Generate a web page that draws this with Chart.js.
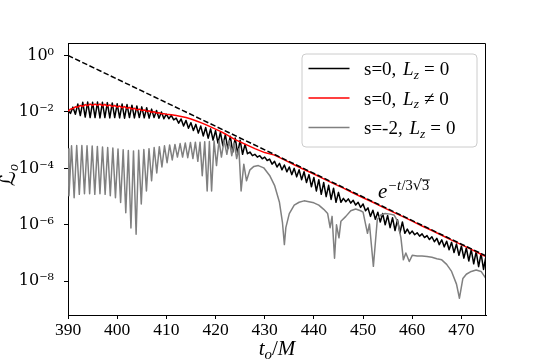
<!DOCTYPE html>
<html><head><meta charset="utf-8">
<script src="https://cdn.jsdelivr.net/npm/chart.js@4/dist/chart.umd.min.js"></script>
<style>html,body{margin:0;padding:0;background:#fff;}canvas{display:block;}</style>
</head><body>
<canvas id="c" width="540" height="360"></canvas>
<script>
// ---------- data (log10 of L_o) ----------
const xTicks = [390, 400, 410, 420, 430, 440, 450, 460, 470];
const yTickExps = [-8, -6, -4, -2, 0];
const xRange = [390, 475];
const yRange = [6.4e-10, 2.77];

// s=0, Lz=0 : peaks at t = 390,391,...,475 ; troughs at t = 390.5,...,474.5
const blackPeakStart = 390, blackTroughStart = 390.5;
const blackPeaks = [-1.95,-1.83,-1.72,-1.66,-1.65,-1.66,-1.65,-1.66,-1.67,-1.68,
 -1.71,-1.72,-1.74,-1.76,-1.79,-1.82,-1.85,-1.9,-1.95,-2.0,
 -2.08,-2.12,-2.22,-2.25,-2.3,-2.38,-2.44,-2.5,-2.55,-2.6,
 -2.66,-2.72,-2.8,-2.86,-2.92,-3.0,-3.15,-3.42,-3.5,-3.55,
 -3.6,-3.67,-3.75,-3.82,-3.88,-3.95,-4.0,-4.05,-4.12,-4.22,
 -4.32,-4.4,-4.5,-4.6,-4.7,-4.85,-5.06,-5.08,-5.13,-5.2,
 -5.26,-5.4,-5.48,-5.55,-5.6,-5.67,-5.75,-5.82,-5.9,-6.15,
 -6.22,-6.28,-6.32,-6.38,-6.42,-6.48,-6.53,-6.58,-6.62,-6.68,
 -6.75,-6.82,-6.88,-6.95,-7.02,-7.1];
const blackTroughs = [-2.05,-2.08,-2.13,-2.18,-2.2,-2.2,-2.21,-2.2,-2.21,-2.2,
 -2.21,-2.22,-2.2,-2.21,-2.2,-2.21,-2.22,-2.2,-2.22,-2.24,
 -2.24,-2.28,-2.4,-2.5,-2.58,-2.66,-2.75,-2.85,-2.93,-3.0,
 -3.1,-3.2,-3.3,-3.42,-3.48,-3.5,-3.48,-3.55,-3.6,-3.66,
 -3.72,-3.85,-3.95,-4.05,-4.12,-4.22,-4.3,-4.4,-4.5,-4.65,
 -4.8,-4.92,-5.0,-5.1,-5.2,-5.2,-5.18,-5.23,-5.3,-5.38,
 -5.5,-5.7,-5.8,-5.9,-6.0,-6.1,-6.2,-6.28,-6.3,-6.32,
 -6.35,-6.4,-6.45,-6.52,-6.6,-6.7,-6.78,-6.88,-6.98,-7.08,
 -7.18,-7.28,-7.38,-7.48,-7.58];

// s=0, Lz != 0
const redT = [390,390.5,391,391.5,392,392.5,393,393.5,394,394.5,395,395.5,396,396.5,397,397.5,398,398.5,399,399.5,
 400,400.5,401,401.5,402,402.5,403,403.5,404,404.5,405,405.5,406,406.5,407,407.5,408,408.5,409,409.5,
 410,411,412,413,414,415,416,417,418,419,420,421,422,423,424,425,426,427,428,429,430,
 432,434,436,438,440,442,444,446,448,450,452,454,456,458,460,462,464,466,468,470,472,474,475];
const redLog = [-1.97,-1.9,-1.88,-1.82,-1.83,-1.77,-1.8,-1.74,-1.78,-1.72,-1.77,-1.72,-1.77,-1.72,-1.78,-1.73,-1.79,-1.75,-1.81,-1.77,
 -1.83,-1.79,-1.85,-1.81,-1.87,-1.84,-1.9,-1.87,-1.93,-1.9,-1.95,-1.93,-1.98,-1.96,-2.01,-1.99,-2.04,-2.03,-2.06,-2.06,
 -2.08,-2.1,-2.13,-2.16,-2.2,-2.25,-2.31,-2.38,-2.45,-2.53,-2.61,-2.69,-2.78,-2.88,-2.98,-3.06,-3.14,-3.22,-3.3,-3.37,-3.44,
 -3.53,-3.7,-3.87,-4.04,-4.2,-4.37,-4.54,-4.7,-4.87,-5.04,-5.2,-5.37,-5.54,-5.7,-5.87,-6.04,-6.2,-6.37,-6.54,-6.7,-6.87,-7.04,-7.12];

// s=-2, Lz=0
const grayT = [390,390.2,390.72,391.25,391.77,392.3,392.82,393.35,393.87,394.4,394.92,395.45,395.97,396.5,397.02,397.55,398.07,398.6,399.12,399.65,
 400.17,400.7,401.22,401.75,402.27,402.8,403.32,403.85,404.37,404.9,405.42,405.95,406.47,407,407.52,408.05,408.57,409.1,409.62,410.15,
 410.67,411.2,411.75,412.25,412.8,413.3,413.85,414.35,414.9,415.4,415.9,416.4,416.85,417.3,417.8,418.3,418.75,419.2,419.7,420.2,
 420.7,421.2,421.75,422.3,422.8,423.3,423.8,424.3,424.75,425.2,425.75,426.3,427,427.8,428.7,429.8,431,432,433,433.6,
 434,434.3,435,436,437,438,439,440,441,442,442.8,443.3,443.7,444.2,444.6,445.1,445.5,446.5,447.5,448.5,
 449.5,450,450.9,451.3,452.1,452.9,453.6,454.5,455.5,456.3,457,457.7,458.2,458.7,459.4,460,461,462,463,464,
 465,466,467,468,469,469.6,470.3,471,472,473,474,475];
const grayLog = [-3.3,-4.97,-3.2,-5.04,-3.19,-4.92,-3.19,-4.9,-3.2,-4.9,-3.21,-4.92,-3.22,-4.9,-3.24,-4.92,-3.26,-4.97,-3.28,-5.04,
 -3.31,-5.21,-3.34,-5.57,-3.37,-6.11,-3.38,-6.33,-3.36,-5.26,-3.33,-4.8,-3.3,-4.44,-3.26,-4.16,-3.23,-3.95,-3.2,-3.8,
 -3.17,-3.7,-3.15,-3.6,-3.12,-3.6,-3.1,-3.62,-3.08,-3.65,-3.07,-3.75,-3.07,-4.26,-3.06,-4.8,-3.05,-4.8,-3.03,-3.9,
 -3.02,-3.6,-3.0,-3.5,-3.02,-3.55,-3.1,-3.65,-3.3,-4.8,-3.85,-4.44,-4.05,-3.93,-3.9,-3.98,-4.25,-4.6,-5.2,-5.9,
 -6.7,-6.1,-5.6,-5.3,-5.2,-5.15,-5.18,-5.22,-5.3,-5.45,-5.6,-6.1,-5.7,-7.18,-6.0,-6.46,-5.87,-5.7,-5.5,-5.44,
 -5.5,-5.55,-6.3,-5.97,-7.47,-5.8,-5.65,-5.6,-5.62,-5.65,-5.87,-6.46,-7.24,-7.0,-7.3,-7.08,-7.1,-7.1,-7.12,-7.15,
 -7.2,-7.24,-7.4,-7.65,-8.1,-8.6,-7.9,-7.75,-7.65,-7.6,-7.65,-7.9];

// reference slope e^{-t/3sqrt3}: end points
const guideT = [390, 475];
const guideLog = [0.0, -7.1];

// ---------- build datasets ----------
const P = v => Math.pow(10, v);
const blackData = [];
for (let i = 0; i < blackPeaks.length; i++) {
  blackData.push({x: blackPeakStart + i, y: P(blackPeaks[i])});
  if (i < blackTroughs.length) blackData.push({x: blackTroughStart + i, y: P(blackTroughs[i])});
}
const toPts = (T, L) => T.map((t, i) => ({x: t, y: P(L[i])}));

const SERIF = '"Liberation Serif","DejaVu Serif","Times New Roman",serif';
const SUP = {'-':'\u207B','0':'\u2070','1':'\u00B9','2':'\u00B2','3':'\u00B3','4':'\u2074','5':'\u2075','6':'\u2076','7':'\u2077','8':'\u2078','9':'\u2079'};

function drawRuns(ctx, x, y, parts) {
  for (const p of parts) {
    ctx.font = p.f;
    ctx.fillText(p.t, x, y + (p.dy || 0));
    x += ctx.measureText(p.t).width + (p.sp || 0);
  }
  return x;
}
function runsWidth(ctx, parts) {
  let w = 0;
  for (const p of parts) { ctx.font = p.f; w += ctx.measureText(p.t).width + (p.sp || 0); }
  return w;
}

const legendItems = [
  {color: '#000000', rel: '=', s: 's=0, '},
  {color: '#ff0000', rel: '\u2260', s: 's=0, '},
  {color: '#808080', rel: '=', s: 's=-2, '}
];

const decor = {
  id: 'decor',
  afterDraw(chart) {
    const ctx = chart.ctx, a = chart.chartArea;
    ctx.save();
    // full frame
    ctx.strokeStyle = '#000'; ctx.lineWidth = 1;
    ctx.beginPath();
    ctx.moveTo(Math.round(a.left) + 0.5, Math.round(a.top) + 0.5);
    ctx.lineTo(Math.round(a.right) - 0.5, Math.round(a.top) + 0.5);
    ctx.lineTo(Math.round(a.right) - 0.5, Math.round(a.bottom));
    ctx.stroke();

    // legend
    const bx = 302, by = 54, bw = 175, bh = 93, r = 4;
    ctx.beginPath();
    ctx.moveTo(bx + r, by); ctx.lineTo(bx + bw - r, by); ctx.arcTo(bx + bw, by, bx + bw, by + r, r);
    ctx.lineTo(bx + bw, by + bh - r); ctx.arcTo(bx + bw, by + bh, bx + bw - r, by + bh, r);
    ctx.lineTo(bx + r, by + bh); ctx.arcTo(bx, by + bh, bx, by + bh - r, r);
    ctx.lineTo(bx, by + r); ctx.arcTo(bx, by, bx + r, by, r); ctx.closePath();
    ctx.fillStyle = 'rgba(255,255,255,0.8)'; ctx.fill();
    ctx.strokeStyle = '#cccccc'; ctx.lineWidth = 1; ctx.stroke();
    const rows = [68.5, 98, 127.5];
    ctx.fillStyle = '#000'; ctx.textBaseline = 'alphabetic'; ctx.textAlign = 'left';
    legendItems.forEach((it, i) => {
      ctx.strokeStyle = it.color; ctx.lineWidth = 1.6;
      ctx.beginPath(); ctx.moveTo(308.5, rows[i]); ctx.lineTo(349.5, rows[i]); ctx.stroke();
      drawRuns(ctx, 364, rows[i] + 6.5, [
        {t: it.s, f: '19px ' + SERIF, sp: 2},
        {t: 'L', f: 'italic 19px ' + SERIF},
        {t: 'z', f: 'italic 13.5px ' + SERIF, dy: 3.5, sp: 5},
        {t: it.rel, f: '19px ' + SERIF, sp: 5},
        {t: '0', f: '19px ' + SERIF}
      ]);
    });

    // annotation e^{-t/3sqrt3}
    ctx.fillStyle = '#000';
    let x = drawRuns(ctx, 378, 198, [{t: 'e', f: 'italic 21px ' + SERIF, sp: 1}]);
    x = drawRuns(ctx, x, 190, [
      {t: '\u2212', f: '14.5px ' + SERIF, sp: 0.5},
      {t: 't', f: 'italic 14.5px ' + SERIF, sp: 0.5},
      {t: '/3', f: '14.5px ' + SERIF},
      {t: '\u221A', f: '14.5px "DejaVu Serif",' + SERIF}
    ]);
    ctx.font = '14.5px ' + SERIF;
    const w3 = ctx.measureText('3').width;
    ctx.fillText('3', x, 190);
    ctx.fillRect(x - 0.5, 179.5, w3 + 1, 0.9);

    // x axis title t_o / M
    const xt = [
      {t: 't', f: 'italic 21px ' + SERIF},
      {t: 'o', f: 'italic 15px ' + SERIF, dy: 4},
      {t: '/', f: '21px ' + SERIF},
      {t: 'M', f: 'italic 21px ' + SERIF}
    ];
    const cx = (a.left + a.right) / 2;
    drawRuns(ctx, cx - runsWidth(ctx, xt) / 2, 355, xt);

    // y axis title L_o (calligraphic L)
    ctx.translate(15, (a.top + a.bottom) / 2 - 4);
    ctx.rotate(-Math.PI / 2);
    const yt = [
      {t: '\u2112', f: '21px "DejaVu Sans","Noto Sans",' + SERIF},
      {t: 'o', f: 'italic 14px ' + SERIF, dy: 3}
    ];
    drawRuns(ctx, -runsWidth(ctx, yt) / 2, 0, yt);
    ctx.restore();
  }
};

new Chart(document.getElementById('c'), {
  type: 'line',
  data: {
    datasets: [
      {label: 's=0, Lz=0', data: blackData, borderColor: '#000000', borderWidth: 1.5, order: 3},
      {label: 's=0, Lz!=0', data: toPts(redT, redLog), borderColor: '#ff0000', borderWidth: 1.5, order: 2},
      {label: 's=-2, Lz=0', data: toPts(grayT, grayLog), borderColor: '#808080', borderWidth: 1.5, order: 1},
      {label: 'guide', data: toPts(guideT, guideLog), borderColor: '#000000', borderWidth: 1.5, borderDash: [5.5, 2.4], order: 0}
    ]
  },
  options: {
    responsive: false, animation: false, devicePixelRatio: 1,
    elements: {point: {radius: 0}, line: {tension: 0, fill: false, borderJoinStyle: 'round'}},
    layout: {padding: {top: 43, right: 54, left: 0, bottom: 0}},
    plugins: {legend: {display: false}, tooltip: {enabled: false}},
    scales: {
      x: {
        type: 'linear', min: xRange[0], max: xRange[1],
        afterBuildTicks: s => { s.ticks = xTicks.map(v => ({value: v})); },
        afterFit: s => { s.height = 45; },
        grid: {drawOnChartArea: false, drawTicks: true, tickLength: 4, tickColor: '#000', tickWidth: 1},
        border: {display: true, color: '#000', width: 1},
        ticks: {color: '#000', font: {family: SERIF, size: 17.5}, padding: 1, maxRotation: 0, autoSkip: false}
      },
      y: {
        type: 'logarithmic', min: yRange[0], max: yRange[1],
        afterBuildTicks: s => { s.ticks = yTickExps.map(e => ({value: Math.pow(10, e)})); },
        afterFit: s => { s.width = 68; },
        grid: {drawOnChartArea: false, drawTicks: true, tickLength: 4, tickColor: '#000', tickWidth: 1},
        border: {display: true, color: '#000', width: 1},
        ticks: {
          color: '#000', font: {family: '"DejaVu Serif",' + SERIF, size: 16}, padding: 10, autoSkip: false,
          callback: v => '10' + String(Math.round(Math.log10(v))).split('').map(c => SUP[c]).join('')
        }
      }
    }
  },
  plugins: [decor]
});
</script>
</body></html>
